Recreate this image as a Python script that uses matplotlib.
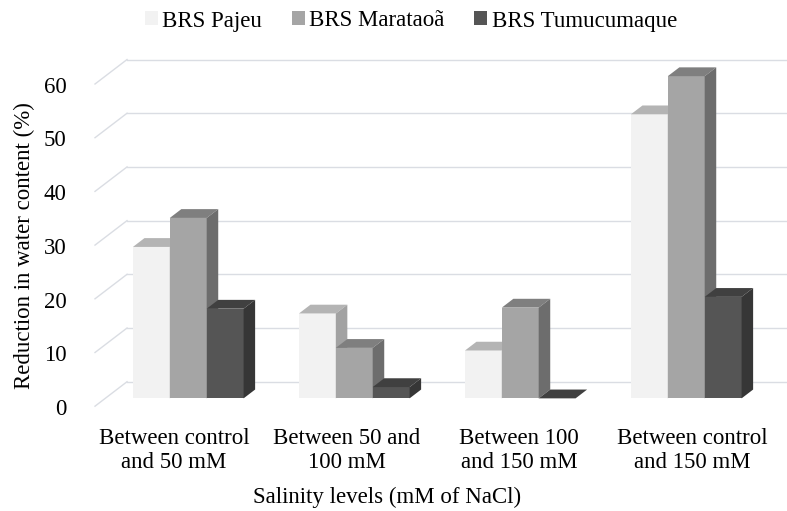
import matplotlib
matplotlib.use("Agg")
import matplotlib.pyplot as plt
from matplotlib.patches import Polygon, Patch

plt.rcParams['font.family'] = ['Liberation Serif', 'DejaVu Serif']

# data
categories = ["Between control\nand 50 mM", "Between 50 and\n100 mM",
              "Between 100\nand 150 mM", "Between control\nand 150 mM"]
series = ["BRS Pajeu", "BRS Marataoã", "BRS Tumucumaque"]
pajeu = [28.2, 15.8, 8.9, 52.9]
marataoa = [33.6, 9.4, 16.9, 60.0]
tumucumaque = [16.7, 2.1, 0.0, 18.9]
yticks = [0, 10, 20, 30, 40, 50, 60]

# face / top / side shades per series
front_col = ["#f2f2f2", "#a5a5a5", "#555555"]
top_col = ["#b4b4b4", "#7f7f7f", "#404040"]
side_col = ["#a2a2a2", "#6d6d6d", "#363636"]

# oblique "3d" projection: depth offset in data units
DX, DY = 0.193, 4.56
d0, d1 = 0.32, 0.68
w = 1 / 4.5
FS = 16.5

fig = plt.figure(figsize=(7.87, 5.11), dpi=100)
ax = fig.add_axes([95 / 787, 0.2051, 1 - 95 / 787, 0.7166])
ax.set_xlim(0, 692 / 166)
ax.set_ylim(0, 366.2 / 5.37)
ax.axis("off")

grid_c = "#dadde3"
for v in yticks:
    ax.plot([0, DX], [v, v + DY], color=grid_c, lw=1.0, zorder=1, clip_on=False)
    ax.plot([DX, 5], [v + DY, v + DY], color=grid_c, lw=1.0, zorder=1, clip_on=False)
    ax.text(-0.17, v - 0.6, str(v), ha="right", va="center", fontsize=FS)

values = [pajeu, marataoa, tumucumaque]
for i in range(len(categories)):
    for j, vals in enumerate(values):
        v = vals[i]
        x0 = i + 0.5 - 1.5 * w + j * w
        fx = x0 + d0 * DX
        ax.bar(fx, v, width=w, bottom=d0 * DY, align="edge",
               color=front_col[j], lw=0, zorder=3 + j)
        top = [(fx, v + d0 * DY), (fx + w, v + d0 * DY),
               (x0 + w + d1 * DX, v + d1 * DY), (x0 + d1 * DX, v + d1 * DY)]
        side = [(fx + w, d0 * DY), (x0 + w + d1 * DX, d1 * DY),
                (x0 + w + d1 * DX, v + d1 * DY), (fx + w, v + d0 * DY)]
        ax.add_patch(Polygon(top, closed=True, fc=top_col[j], lw=0, zorder=3 + j))
        ax.add_patch(Polygon(side, closed=True, fc=side_col[j], lw=0, zorder=3 + j))

for i, lab in enumerate(categories):
    ax.text(0.476 + 1.04 * i, -4.0, lab, ha="center", va="top",
            fontsize=FS, linespacing=1.2)

fig.text(387 / 787, 1 - 497 / 511, "Salinity levels (mM of NaCl)",
         ha="center", va="center", fontsize=FS)
fig.text(24 / 787, 1 - 246 / 511, "Reduction in water content (%)",
         ha="center", va="center", rotation=90, fontsize=FS)

handles = [Patch(fc=front_col[j], lw=0) for j in range(3)]
fig.legend(handles, series, loc="center", bbox_to_anchor=(411 / 787, 1 - 21 / 511),
           ncol=3, frameon=False, fontsize=FS, handlelength=0.55, handleheight=0.55,
           handletextpad=0.2, columnspacing=1.3)

fig.savefig("out.png", dpi=100, facecolor="white")
